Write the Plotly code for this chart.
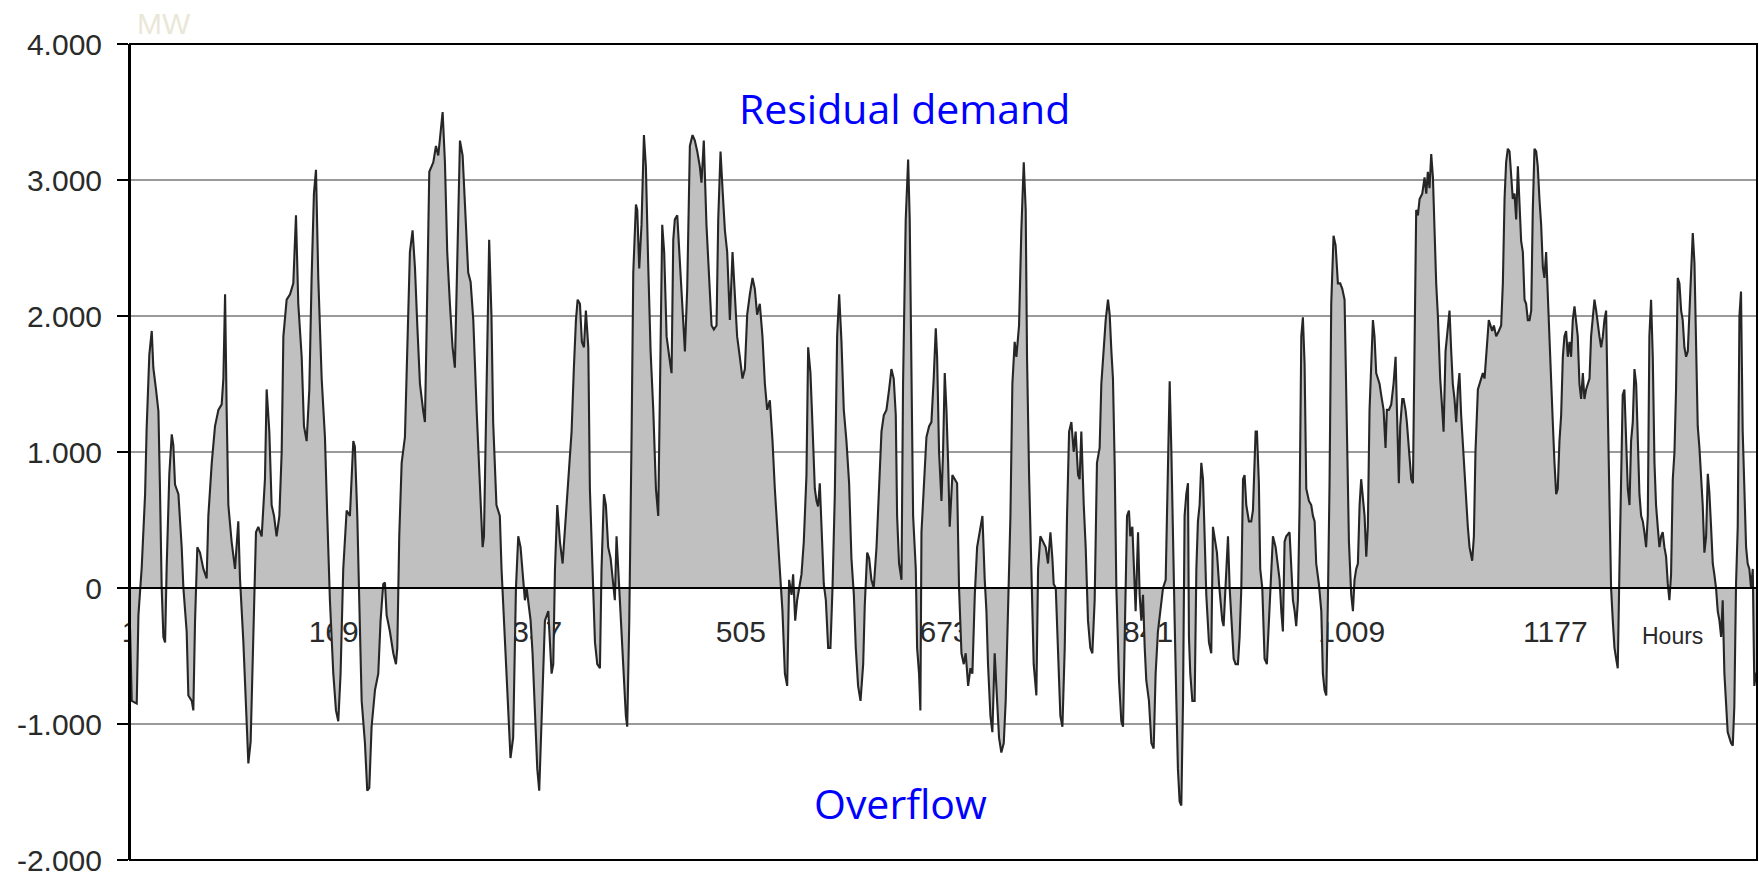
import plotly.graph_objects as go

# ---- data (hour index, residual demand in MW) ----
hours = [
    1, 2.4, 6.5, 7.9, 10.6, 13.4, 14.7, 16.9, 18.9, 20.2, 22.4, 24.4, 25.7, 27.1, 28.5, 29.9,
    31.2, 33.4, 35.4, 36.7, 38.1, 40.9, 43.6, 45.0, 47.7, 49.1, 51.9, 53.2, 54.6, 56.5, 58.7,
    61.5, 64.2, 65.6, 68.4, 71.1, 73.9, 76.6, 78.0, 79.4, 80.7, 82.1, 84.8, 87.6, 90.3, 91.7,
    94.5, 96.7, 98.6, 100.5, 102.7, 104.9, 106.8, 109.6, 112.3, 113.7, 115.9, 117.8, 119.8,
    121.9, 124.2, 126.1, 127.5, 130.2, 133.0, 135.7, 137.9, 139.8, 142.6, 144.5, 146.7, 148.9,
    150.8, 152.7, 154.4, 156.3, 159.1, 161.8, 163.7, 165.9, 168.7, 170.9, 172.8, 174.7, 176.9,
    179.7, 182.4, 185.2, 186.5, 188.5, 190.1, 192.1, 194.8, 196.7, 198.4, 200.3, 203.1, 205.8,
    207.7, 209.9, 211.3, 212.7, 215.4, 218.2, 220.4, 221.5, 223.1, 225.1, 227.8, 229.7, 231.9,
    234.1, 236.1, 238.0, 240.2, 242.9, 244.3, 245.7, 247.9, 251.2, 253.4, 255.3, 257.2, 258.9,
    260.8, 262.7, 264.9, 267.1, 269.0, 271.0, 273.2, 275.4, 277.3, 280.0, 282.0, 284.2, 287.0,
    289.7, 291.9, 293.0, 294.6, 295.7, 297.3, 299.2, 300.6, 303.3, 306.1, 307.5, 310.2, 313.0,
    314.9, 317.1, 319.4,
    321.3, 323.2, 325.4, 326.8, 328.2, 329.6, 331.5, 333.1, 335.1, 337.0, 338.6, 340.6, 343.3,
    346.1, 348.8, 350.2, 351.6, 353.5, 355.7, 357.9, 359.8, 362.6, 365.3, 367.2, 368.9, 370.3,
    372.2, 373.8, 375.5, 377.1, 379.1, 380.4, 382.6, 384.6, 386.5, 388.7, 390.0, 392.0, 393.6,
    395.5, 397.5, 399.7, 401.0, 402.4, 404.1, 405.7, 407.9, 410.1, 411.2, 412.9, 414.8, 416.2,
    418.4, 419.5, 421.1, 423.0, 425.0, 426.6, 428.5, 430.5, 432.7, 434.9, 436.8, 438.2, 440.1,
    441.7, 443.7, 445.9, 447.8, 449.2, 450.5, 452.5, 454.7, 456.9, 458.8, 460.7, 462.9, 465.1,
    467.0, 469.0, 471.1, 472.5, 474.4, 476.6, 478.8, 480.8, 482.7, 484.9, 486.3, 488.2, 489.8,
    491.8, 493.7, 495.9, 498.1, 500.0, 501.9, 504.1, 506.3, 508.3, 510.2, 512.4, 514.6, 516.5,
    518.4, 520.6, 522.8, 524.8, 526.7, 528.9, 531.1, 533.0, 535.2, 537.1, 539.3, 541.3, 543.2,
    544.8, 546.8, 548.1, 549.8, 551.4, 553.1, 555.0, 556.9, 559.1, 560.5, 562.4, 564.1, 566.0,
    567.4, 568.7, 570.1, 571.5, 573.4, 575.1, 577.0, 578.9, 580.6, 582.5, 584.4, 586.1, 588.0,
    589.9, 592.1, 594.3, 596.2, 598.2, 599.8, 601.7, 603.7, 605.9, 607.2, 609.2, 610.8, 612.7,
    614.6, 616.9, 619.0, 621.0, 622.9, 625.1, 627.3, 629.2, 631.1, 632.8,
    633.9, 635.5, 637.5, 638.8, 641.0, 643.0, 644.3, 645.7, 647.1, 649.3, 650.4, 652.0, 653.1,
    654.0, 655.9, 658.1, 660.3, 662.2, 664.1, 665.8, 666.9, 668.5, 670.5, 671.8, 673.2, 674.6,
    676.0, 677.3, 679.5, 681.5, 683.4, 685.0, 687.0, 688.9, 690.5, 692.5, 694.4, 696.0, 698.0,
    699.9, 702.1, 704.3, 706.2, 707.6, 708.9, 710.9, 712.5, 714.4, 716.4, 718.0, 719.9, 721.9,
    723.5, 725.4, 727.4, 729.0, 730.9, 732.3, 734.5, 736.4, 738.4, 740.0, 741.1, 742.8, 744.7,
    746.6, 748.8, 750.2, 752.1, 754.3, 756.5, 758.4, 760.4, 762.0, 763.1, 764.8, 766.7, 768.6,
    770.3, 772.2, 774.1, 775.8, 777.7, 779.6, 781.2, 783.2, 784.5, 785.9, 787.9, 789.5, 791.4,
    793.3, 795.0, 796.9, 798.8, 801.0, 802.4, 804.3, 806.0, 807.9, 809.3, 810.7, 812.0, 813.4,
    814.8, 817.0, 818.9, 820.3, 821.7, 823.6, 825.2, 826.3, 828.0, 829.1, 830.7, 832.7, 834.0,
    835.4, 836.8, 838.2, 839.5, 841.7, 843.7, 845.6, 847.2, 849.1, 851.1, 853.3, 855.5, 857.4,
    858.8, 860.2, 861.5, 862.9, 864.3, 865.6, 867.0, 868.4, 869.8, 871.1, 872.5, 873.9, 874.7,
    875.8, 877.5, 879.4, 880.8, 882.1, 883.5, 884.9, 886.3, 887.6, 889.0, 891.2, 893.1, 894.5,
    895.9, 897.8, 899.5, 900.6, 902.2, 903.3, 904.9, 906.9, 908.3, 909.6, 911.6, 913.2, 915.1,
    916.5, 917.9, 919.3, 920.6, 922.0, 924.2, 926.1, 927.5, 929.7, 930.8, 932.4, 933.5, 935.2,
    937.1, 939.0, 940.7, 942.6, 944.0,
    946.2, 948.1, 949.5, 950.9, 952.2, 953.6, 955.0, 957.7, 959.1, 960.5, 961.9, 963.2, 964.6,
    966.0, 967.4, 968.7, 970.1, 971.5, 973.7, 975.6, 977.0, 978.4, 979.7, 981.9, 983.9, 985.2,
    986.6, 988.0, 989.4, 990.7, 992.1, 994.0, 995.7, 997.6, 999.5, 1001.2, 1003.1, 1005.0,
    1006.7, 1008.6, 1010.0, 1011.3, 1012.7, 1014.1, 1015.5, 1016.8, 1018.2, 1019.6, 1021.0,
    1022.3, 1023.7, 1025.1, 1026.5, 1027.8, 1029.2, 1030.6, 1032.0, 1033.3, 1035.3, 1036.9,
    1038.0, 1039.7, 1041.6, 1043.5, 1045.2, 1046.3, 1047.9, 1049.0, 1050.7, 1051.8, 1053.4,
    1054.5, 1056.2, 1058.1, 1059.5, 1060.8, 1062.2, 1063.6, 1065.0, 1067.2, 1069.1, 1070.5,
    1071.8, 1073.2, 1074.6, 1076.0, 1077.3, 1078.7, 1080.1, 1082.0, 1083.7, 1084.8, 1086.4,
    1088.3, 1089.7, 1091.1, 1092.4, 1093.8, 1095.2, 1096.6, 1097.9, 1099.3, 1101.2, 1102.9,
    1104.8, 1106.2, 1108.4, 1109.8, 1111.1, 1113.1, 1114.4, 1115.8, 1117.2, 1118.6, 1119.9,
    1122.1, 1123.5, 1124.9, 1126.3, 1128.2, 1130.4, 1132.3, 1133.7, 1135.1, 1136.4, 1137.8,
    1139.2, 1140.6, 1141.9, 1143.3, 1144.7, 1146.1, 1147.4, 1148.8, 1150.2, 1151.6, 1152.9,
    1154.3, 1155.7, 1157.1, 1158.4, 1159.8, 1161.2, 1162.5, 1163.9, 1165.3, 1166.7, 1168.0,
    1169.4, 1170.8, 1172.2, 1173.5, 1174.9, 1176.3, 1177.7, 1179.0, 1180.4, 1181.8, 1183.2,
    1184.5, 1185.9, 1187.3, 1188.7, 1190.0, 1191.4, 1192.8, 1194.2, 1195.5, 1196.9, 1198.3,
    1199.7, 1201.0, 1202.4, 1203.8, 1205.2, 1206.5, 1207.9, 1209.3, 1210.7, 1212.0, 1213.4,
    1214.8, 1216.2, 1217.5, 1218.9, 1220.3, 1221.7, 1223.0, 1224.4, 1225.8, 1227.2, 1228.5,
    1229.9, 1231.3, 1232.6, 1234.0, 1235.4, 1236.8, 1238.2, 1239.5, 1240.9, 1242.3, 1243.7,
    1245.0, 1246.4, 1247.8, 1249.2, 1250.5, 1251.9, 1253.3, 1254.6, 1256.0, 1257.4, 1258.8,
    1260.1, 1261.5, 1262.9, 1264.3, 1265.6, 1267.0, 1268.4, 1269.8, 1271.1, 1272.5, 1273.9,
    1275.3, 1276.6, 1278.0, 1279.4, 1280.8, 1282.1, 1283.5, 1284.9, 1286.3, 1287.6, 1289.0,
    1290.4, 1291.8, 1293.1, 1294.5, 1295.9, 1297.3, 1298.6, 1300.0, 1301.4, 1302.8, 1304.1,
    1305.5, 1306.9, 1308.2, 1309.6, 1311.0, 1312.4, 1313.8, 1315.1, 1316.5, 1317.9, 1319.2,
    1320.6, 1322.0, 1323.4, 1324.7, 1326.1, 1327.5, 1328.9, 1330.2, 1331.6, 1333.0, 1334.4,
    1335.7, 1337.1, 1338.5, 1339.9, 1341.2, 1342.6,
]

mw = [
    -300, -830, -850, -200, 150, 690, 1180, 1716, 1890, 1620, 1460, 1300, 720, 0, -360, -400,
    150, 840, 1130, 1050, 760, 690, 300, 0, -320, -790, -830, -900, -250, 300, 260,
    140, 70, 530, 920, 1190, 1310, 1350, 1540, 2160, 1310, 610, 340, 140, 490, 70,
    -400, -940, -1290, -1130, -250, 410, 450, 380, 800, 1460, 1150, 610, 530,
    380, 530, 1000, 1850, 2120, 2160, 2240, 2740, 2090, 1700, 1190, 1080, 1460,
    2280, 2900, 3075, 2280, 1540, 1110, 530, -90, -630, -900, -980, -630, 140,
    570, 530, 1080, 1040, 530, -90, -830, -1140, -1490, -1470, -1020, -750, -630,
    -240, 30, 40, -200, -320, -480, -560, -440, 380, 920, 1110, 1700, 2470,
    2630, 2350, 1930, 1500, 1300, 1220, 1910, 3060, 3130, 3250, 3180, 3330, 3500,
    3130, 2470, 2090, 1770, 1620, 2470, 3290, 3180, 2860, 2320, 2250, 1970, 1300,
    800, 300, 380, 1190, 2000, 2560, 2000, 1220, 610, 530, 140, -360, -830,
    -1250, -1100, 0,
    380, 300, 60, -90, 0, -90, -240, -480, -940, -1330, -1490, -940, -240,
    -170, -630, -560, 140, 610, 340, 180, 410, 800, 1150, 1620, 1970, 2120,
    2090, 1810, 1770, 2040, 1770, 730, 140, -400, -560, -590, 140, 690, 610,
    300, 220, 30, -90, 380, 100, -170, -480, -940, -1020, -240, 1110, 2320,
    2820, 2780, 2350, 2670, 3330, 3100, 2390, 1740, 1310, 730, 530, 1610, 2670,
    2470, 1850, 1700, 1580, 2560, 2710, 2740, 2390, 2010, 1740, 2200, 3250, 3330,
    3290, 3210, 3100, 2980, 3290, 2670, 2280, 1930, 1900, 1930, 2710, 3210, 2940,
    2630, 2470, 1970, 2470, 2160, 1850, 1700, 1540, 1610, 2010, 2160, 2280, 2200,
    2010, 2090, 1850, 1500, 1310, 1380, 1080, 730, 450, 140, -170, -630, -720,
    60, -50, 100, -240, -90, 0, 100, 340, 830, 1770, 1580, 1190, 730,
    640, 600, 770, 450, 30, -90, -440, -440, 0, 690, 1850, 2160, 1810,
    1310, 1080, 770, 220, -50, -440, -720, -830, -560, -130, 260, 220, 60,
    0, 300, 730, 1150, 1270, 1310, 1460, 1610, 1540, 1270,
    530, 180, 60, 1500, 2710, 3150, 2710, 1540, 530, 140, -440, -630, -900,
    410, 730, 1110, 1190, 1220, 1540, 1910, 1700, 1000, 640, 1000, 1580, 1310,
    920, 450, 830, 800, 770, 0, -480, -560, -480, -720, -590, -630, -50,
    300, 410, 530, 60, -170, -560, -940, -1060, -480, -830, -1100, -1210, -1140,
    -830, -240, 530, 1500, 1810, 1700, 1930, 2630, 3130, 2780, 1700, 830, 0,
    -560, -790, 140, 380, 340, 300, 180, 410, 220, 30, 0, -480, -940,
    -1020, -440, 530, 1150, 1220, 1000, 1150, 830, 800, 1150, 610, 300, -240,
    -440, -480, -90, 920, 1030, 1500, 1770, 1970, 2120, 2010, 1740, 1540, 920,
    0, -680, -980, -1020, -440, 530, 570, 380, 450, 140, -170, 410, -50,
    -240, -50, -440, -680, -830, -1140, -1180, -630, -320, -170, 0, 60, 1030,
    1520, 1000, 300, -240, -830, -1330, -1570, -1600, -830, 530, 690, 770, -360,
    -630, -830, -830, 140, 490, 610, 920, 800, 340, -50, -400, -480, 450,
    380, 260, 30, -90, -240, -280, 0, 380, 0, -240, -520, -560, -560,
    -360, 0, 800, 830, 610, 490, 490, 570, 1150, 1150, 770, 140, 0,
    -520, -560, -240, 140, 380,
    300, 180, 60, -170, -320, 340, 380, 410, 140, -90, -170, -280, -90,
    610, 1850, 1990, 1650, 730, 640, 610, 530, 490, 180, 30, -170, -630,
    -750, -790, -50, 770, 2090, 2590, 2520, 2240, 2240, 2200, 2120, 1080,
    340, -50, -170, 60, 140, 180, 610, 800, 640, 530, 230,
    450, 1310, 1580, 1970, 1850, 1580, 1540, 1500, 1420, 1310, 1030,
    1310, 1310, 1350, 1500, 1700, 1310, 770, 1190, 1390, 1390, 1310,
    1220, 1030, 800, 770, 1930, 2780, 2740, 2860, 2900, 3020, 2900,
    3060, 2940, 3190, 3020, 2630, 2240, 2000, 1540, 1310, 1150, 1740,
    1930, 2040, 1740, 1500, 1390, 1220, 1460, 1580, 1270, 960, 730,
    450, 300, 200, 380, 1000, 1460, 1500, 1540, 1580, 1540, 1700,
    1970, 1930, 1890, 1930, 1850, 1890, 1930, 2240, 2860, 3130, 3230,
    3210, 3060, 2860, 2900, 2710, 3100, 2860, 2550, 2470, 2120, 2090,
    1970, 1970, 2040, 2780, 3230, 3210, 3100, 2860, 2670, 2360, 2280,
    2470, 2120, 1850, 1460, 1220, 920, 690, 730, 1080, 1270, 1700,
    1850, 1890, 1700, 1810, 1700, 1970, 2070, 1970, 1850, 1500, 1390,
    1580, 1390, 1460, 1500, 1540, 1850, 1970, 2120, 2040, 1930, 1850,
    1770, 1850, 1970, 2040, 1310, 610, 0, -240, -440, -520, -590,
    140, 840, 1420, 1460, 1080, 730, 610, 1080, 1220, 1610, 1500,
    1080, 690, 530, 490, 410, 300, 530, 1850, 2120, 1700, 920,
    610, 450, 300, 380, 410, 300, 230, 30, -90, 100, 800,
    1000, 1460, 2280, 2240, 2040, 1970, 1770, 1700, 1740, 2000, 2360,
    2610, 2390, 1700, 1190, 1030, 800, 610, 260, 380, 840, 700,
    450, 180, 100, 0, -170, -240, -360, -90, -630, -870, -1060,
    -1100, -1140, -1160, -870, 30, 450, 2000, 2180, 1150, 770, 300,
    180, 140, 0, 140, -720, -620,
]

tick_hours = [1, 169, 337, 505, 673, 841, 1009, 1177]
tick_hour_labels = ["1", "169", "337", "505", "673", "841", "1009", "1177"]
y_ticks = [-2000, -1000, 0, 1000, 2000, 3000, 4000]
y_tick_labels = ["-2.000", "-1.000", "0", "1.000", "2.000", "3.000", "4.000"]

fig = go.Figure()
fig.add_trace(go.Scatter(
    x=hours, y=mw, mode="lines", fill="tozeroy",
    fillcolor="#c0c0c0",
    line=dict(color="#262626", width=2.1),
    hoverinfo="x+y", showlegend=False,
))

axis_font = dict(family="Liberation Sans, Arial, sans-serif", size=30, color="#2a2a2a")

TOP, BOTTOM = 44, 860          # pixel rows of the plot frame
fig.update_layout(
    width=1759, height=878,
    margin=dict(l=130, r=2, t=TOP, b=878 - BOTTOM, autoexpand=False),
    paper_bgcolor="white", plot_bgcolor="white",
    xaxis=dict(
        range=[0.95, 1343.4], anchor="free", position=1/3,
        tickvals=tick_hours, ticktext=tick_hour_labels,
        showgrid=False, zeroline=False, showline=False,
        ticks="", tickfont=axis_font, layer="below traces",
        ticklabelstandoff=23, automargin=False,
    ),
    yaxis=dict(
        range=[-2000, 4000], tickvals=y_ticks, ticktext=y_tick_labels,
        showgrid=True, gridcolor="#9a9a9a", gridwidth=1.5,
        zeroline=False, showline=True, linecolor="black", linewidth=2,
        ticks="outside", ticklen=11, tickcolor="black", tickwidth=1.5,
        tickfont=axis_font, ticklabelstandoff=9, ticklabeloverflow="allow",
        automargin=False,
    ),
    shapes=[
        dict(type="line", xref="paper", yref="y", x0=0, x1=1, y0=0, y1=0,
             line=dict(color="black", width=2), layer="above"),
        dict(type="rect", xref="paper", yref="paper", x0=0, x1=1, y0=0, y1=1,
             line=dict(color="black", width=2), layer="above"),
    ],
    annotations=[
        dict(text="MW", xref="paper", yref="paper", x=0.003, y=1.0, yshift=21,
             xanchor="left", yanchor="middle", showarrow=False,
             font=dict(family="Liberation Sans, Arial, sans-serif", size=30, color="#ebe7d8")),
        dict(text="Residual demand", xref="paper", yref="paper", x=(904-130)/1627,
             y=(BOTTOM-108)/(BOTTOM-TOP),
             xanchor="center", yanchor="middle", showarrow=False,
             font=dict(family="Open Sans, sans-serif", size=41, color="#0000ff")),
        dict(text="Overflow", xref="paper", yref="paper", x=(900-130)/1627,
             y=(BOTTOM-803)/(BOTTOM-TOP),
             xanchor="center", yanchor="middle", showarrow=False,
             font=dict(family="Open Sans, sans-serif", size=41, color="#0000ff")),
        dict(text="Hours", xref="paper", yref="paper", x=(1672-130)/1627,
             y=(BOTTOM-636)/(BOTTOM-TOP),
             xanchor="center", yanchor="middle", showarrow=False,
             font=dict(family="Liberation Sans, Arial, sans-serif", size=23, color="#2a2a2a")),
    ],
)

fig.write_html("out.html")
